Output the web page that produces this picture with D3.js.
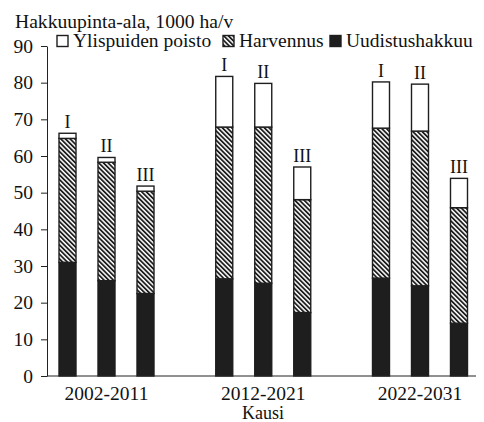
<!DOCTYPE html>
<meta charset="utf-8">
<style>
  body { margin: 0; background: #fff; }
  text { font-family: "Liberation Serif", "DejaVu Serif", serif; fill: #111; }
</style>
<body>
<svg id="chart" width="484" height="422"></svg>
<script src="https://cdn.jsdelivr.net/npm/d3@7"></script>
<script>
var periods = ["2002-2011", "2012-2021", "2022-2031"];
var options = ["I", "II", "III"];
var keys = ["Uudistushakkuu", "Harvennus", "Ylispuiden poisto"];

// values per bar, order: period x option
var uudistus   = [31.0, 26.0, 22.5,  26.5, 25.3, 17.3,  26.7, 24.6, 14.4];
var harvennus  = [33.8, 32.3, 27.9,  41.4, 42.6, 30.8,  40.9, 42.2, 31.5];
var ylispuiden = [ 1.4,  1.3,  1.4,  13.8, 11.9,  8.9,  12.6, 12.8,  8.0];
var yTicks = [0, 10, 20, 30, 40, 50, 60, 70, 80, 90];

var rows = [];
periods.forEach(function(p, i) {
  options.forEach(function(o, j) {
    var k = i * 3 + j;
    rows.push({ period: p, option: o,
      "Uudistushakkuu": uudistus[k],
      "Harvennus": harvennus[k],
      "Ylispuiden poisto": ylispuiden[k] });
  });
});

var svg = d3.select("#chart");

var defs = svg.append("defs");
var pat = defs.append("pattern")
    .attr("id", "hatch")
    .attr("patternUnits", "userSpaceOnUse")
    .attr("width", 3.3)
    .attr("height", 3.3)
    .attr("patternTransform", "rotate(-45)");
pat.append("rect").attr("width", 3.3).attr("height", 3.3).attr("fill", "#fff");
pat.append("rect").attr("width", 1.8).attr("height", 3.3).attr("fill", "#1e1e1e");

var fills = { "Uudistushakkuu": "#1e1e1e", "Harvennus": "url(#hatch)", "Ylispuiden poisto": "#fff" };

var y = d3.scaleLinear().domain([0, 90]).range([376, 46]);
var x0 = d3.scalePoint().domain(periods).range([106.5, 420]);
var x1 = d3.scaleBand().domain(options).range([-58.5, 58.5])
    .paddingInner(0.564).paddingOuter(0.282);

var stack = d3.stack().keys(keys)(rows);

// bars
var layer = svg.append("g").selectAll("g")
  .data(stack)
  .enter().append("g")
    .attr("fill", function(d) { return fills[d.key]; });

layer.selectAll("rect")
  .data(function(d) { return d; })
  .enter().append("rect")
    .attr("x", function(d) { return x0(d.data.period) + x1(d.data.option); })
    .attr("y", function(d) { return y(d[1]); })
    .attr("width", x1.bandwidth())
    .attr("height", function(d) { return y(d[0]) - y(d[1]); })
    .attr("stroke", "#1e1e1e")
    .attr("stroke-width", 1.4);

// roman numerals above bars
svg.append("g").selectAll("text")
  .data(rows)
  .enter().append("text")
    .attr("x", function(d) { return x0(d.period) + x1(d.option) + x1.bandwidth() / 2; })
    .attr("y", function(d) { return y(d["Uudistushakkuu"] + d["Harvennus"] + d["Ylispuiden poisto"]) - 5; })
    .attr("text-anchor", "middle")
    .style("font-size", "18px")
    .text(function(d) { return d.option; });

// y axis
var yAxis = svg.append("g")
    .attr("transform", "translate(47,0)")
    .call(d3.axisLeft(y).tickValues(yTicks).tickSize(6).tickSizeOuter(0).tickPadding(8));
yAxis.attr("font-family", null);
yAxis.selectAll("text").style("font-size", "19.5px").attr("fill", "#111");
yAxis.selectAll("line, path").attr("stroke", "#222");

// x axis baseline
svg.append("line")
    .attr("x1", 47).attr("x2", 476)
    .attr("y1", y(0)).attr("y2", y(0))
    .attr("stroke", "#222");

svg.append("g").selectAll("text")
  .data(periods)
  .enter().append("text")
    .attr("x", function(d) { return x0(d); })
    .attr("y", 400)
    .attr("text-anchor", "middle")
    .style("font-size", "19.5px")
    .text(function(d) { return d; });

svg.append("text")
    .attr("x", 263).attr("y", 419)
    .attr("text-anchor", "middle")
    .style("font-size", "18px")
    .text("Kausi");

svg.append("text")
    .attr("x", 15).attr("y", 28)
    .style("font-size", "19.6px")
    .text("Hakkuupinta-ala, 1000 ha/v");

// legend
var legendItems = [
  { key: "Ylispuiden poisto", bx: 57, tx: 73 },
  { key: "Harvennus", bx: 223, tx: 239 },
  { key: "Uudistushakkuu", bx: 330, tx: 346 }
];
var legend = svg.append("g").selectAll("g")
  .data(legendItems)
  .enter().append("g");
legend.append("rect")
    .attr("x", function(d) { return d.bx; })
    .attr("y", 35.5)
    .attr("width", 11).attr("height", 11)
    .attr("fill", function(d) { return fills[d.key]; })
    .attr("stroke", "#1e1e1e")
    .attr("stroke-width", 1.4);
legend.append("text")
    .attr("x", function(d) { return d.tx; })
    .attr("y", 47)
    .style("font-size", "19.5px")
    .text(function(d) { return d.key; });
</script>
</body>
